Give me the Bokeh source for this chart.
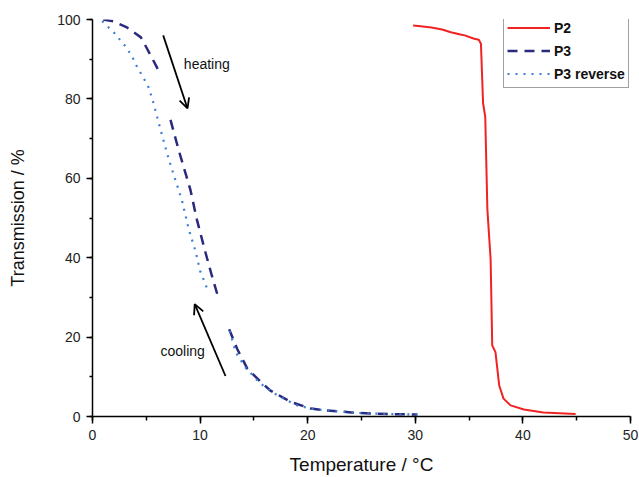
import math
from bokeh.plotting import figure
from bokeh.models import Range1d, SingleIntervalTicker, Arrow, OpenHead, Label, Legend
from bokeh.embed import file_html
from bokeh.resources import INLINE

nan = float("nan")

# P2 (solid red)
p2_temp = [29.8, 30.5, 31.5, 32.5, 33.3, 34.2, 34.6, 35.4, 35.9, 36.1, 36.3, 36.5,
           36.7, 37.0, 37.15, 37.45, 37.8, 38.2, 38.85, 40.1, 41.9, 44.9]
p2_trans = [98.5, 98.3, 98.0, 97.5, 96.8, 96.2, 96.0, 95.2, 94.9, 93.9, 78.9, 75.5,
            52.1, 39.6, 17.9, 16.2, 7.8, 4.5, 2.8, 1.75, 1.0, 0.6]

# P3 (dashed, heating)
p3_temp = [1.0, 2.0, 3.2, 4.5, 5.5, 6.2, nan, 7.25, 8.0, 9.1, 9.7, 10.5, 11.1, 11.6,
           nan, 12.7, 13.45, 14.4, 15.8, 16.5, 18.4, 20.3, 21.5, 24.6, 27.7, 30.2]
p3_trans = [100, 99.5, 98.0, 95.5, 90.5, 86.8, nan, 74.7, 67.2, 57.1, 49.6, 41.3, 35.4, 30.8,
            nan, 22.0, 17.0, 12.0, 8.3, 6.6, 3.7, 2.0, 1.6, 0.9, 0.6, 0.5]

# P3 reverse (dotted, cooling)
rev_temp = [0.9, 2.1, 3.1, 3.7, 4.15, 4.7, 5.2, 5.55, 6.0, 6.5, 7.1, 7.7, 8.3, 8.95, 9.57,
            10.0, 10.8, nan, 12.76, 13.3, 14.2, 15.6, 17.2, 19.0, 20.3, 21.5, 24.6, 27.7, 30.2]
rev_trans = [99.6, 96.4, 93.1, 90.6, 88.0, 85.5, 83.0, 80.1, 75.5, 70.5, 64.7, 59.6, 54.6, 47.1, 41.7,
             36.7, 31.2, nan, 21.6, 16.2, 12.4, 8.3, 5.3, 2.8, 2.0, 1.6, 0.9, 0.6, 0.5]

FONT = "Liberation Sans"

p = figure(width=639, height=477, output_backend="svg", toolbar_location=None,
           x_range=Range1d(0, 50), y_range=Range1d(0, 100),
           min_border_left=92, min_border_right=9, min_border_top=19, min_border_bottom=59)
p.outline_line_color = None
p.xgrid.visible = False
p.ygrid.visible = False
p.background_fill_color = "white"

r2 = p.line(p2_temp, p2_trans, line_color="#f02222", line_width=2)
r3 = p.line(p3_temp, p3_trans, line_color="#2a2a7e", line_width=2.5, line_dash="10 7")
rr = p.line(rev_temp, rev_trans, line_color="#3b7fd4", line_width=2.2, line_dash="2 6")

legend = Legend(items=[("P2", [r2]), ("P3", [r3]), ("P3 reverse", [rr])],
                location=(411, 328))
legend.label_text_font = FONT
legend.label_text_font_style = "bold"
legend.label_text_font_size = "14px"
legend.label_text_color = "#111111"
legend.glyph_width = 43
legend.glyph_height = 21
legend.label_height = 21
legend.spacing = 2
legend.padding = 3
legend.margin = 0
legend.label_standoff = 4
legend.border_line_color = "#444444"
legend.border_line_width = 1
legend.background_fill_alpha = 1
p.add_layout(legend)

for ax in (p.xaxis[0], p.yaxis[0]):
    ax.axis_line_width = 1.5
    ax.major_tick_line_width = 1.5
    ax.minor_tick_line_width = 1.5
    ax.major_tick_in = 0
    ax.minor_tick_in = 0
    ax.major_label_text_font = FONT
    ax.major_label_text_font_size = "14px"
    ax.major_label_text_color = "#222222"
    ax.axis_label_text_font = FONT
    ax.axis_label_text_font_style = "normal"
    ax.axis_label_text_color = "#111111"

p.xaxis.ticker = SingleIntervalTicker(interval=10, num_minor_ticks=2)
p.yaxis.ticker = SingleIntervalTicker(interval=20, num_minor_ticks=2)
p.xaxis.axis_label = "Temperature / °C"
p.yaxis.axis_label = "Transmission / %"
p.xaxis.axis_label_text_font_size = "19px"
p.yaxis.axis_label_text_font_size = "18px"
p.xaxis.major_tick_out = 7
p.xaxis.minor_tick_out = 4
p.yaxis.major_tick_out = 6
p.yaxis.minor_tick_out = 3
p.xaxis.major_label_standoff = 6
p.xaxis.axis_label_standoff = 11
p.yaxis.major_label_standoff = 6
p.yaxis.axis_label_standoff = 26

p.add_layout(Arrow(end=OpenHead(size=10, line_width=1.8, line_color="black"),
                   x_start=6.57, y_start=96.0, x_end=8.83, y_end=77.6,
                   line_width=1.8, line_color="black"))
p.add_layout(Arrow(end=OpenHead(size=10, line_width=1.8, line_color="black"),
                   x_start=12.36, y_start=10.2, x_end=9.5, y_end=28.3,
                   line_width=1.8, line_color="black"))
p.add_layout(Label(x=8.49, y=88.9, text="heating", text_font=FONT, text_font_size="14px",
                   text_baseline="middle", text_color="#111111"))
p.add_layout(Label(x=6.32, y=16.6, text="cooling", text_font=FONT, text_font_size="14px",
                   text_baseline="middle", text_color="#111111"))

open("out.html", "w").write(file_html(p, INLINE))
